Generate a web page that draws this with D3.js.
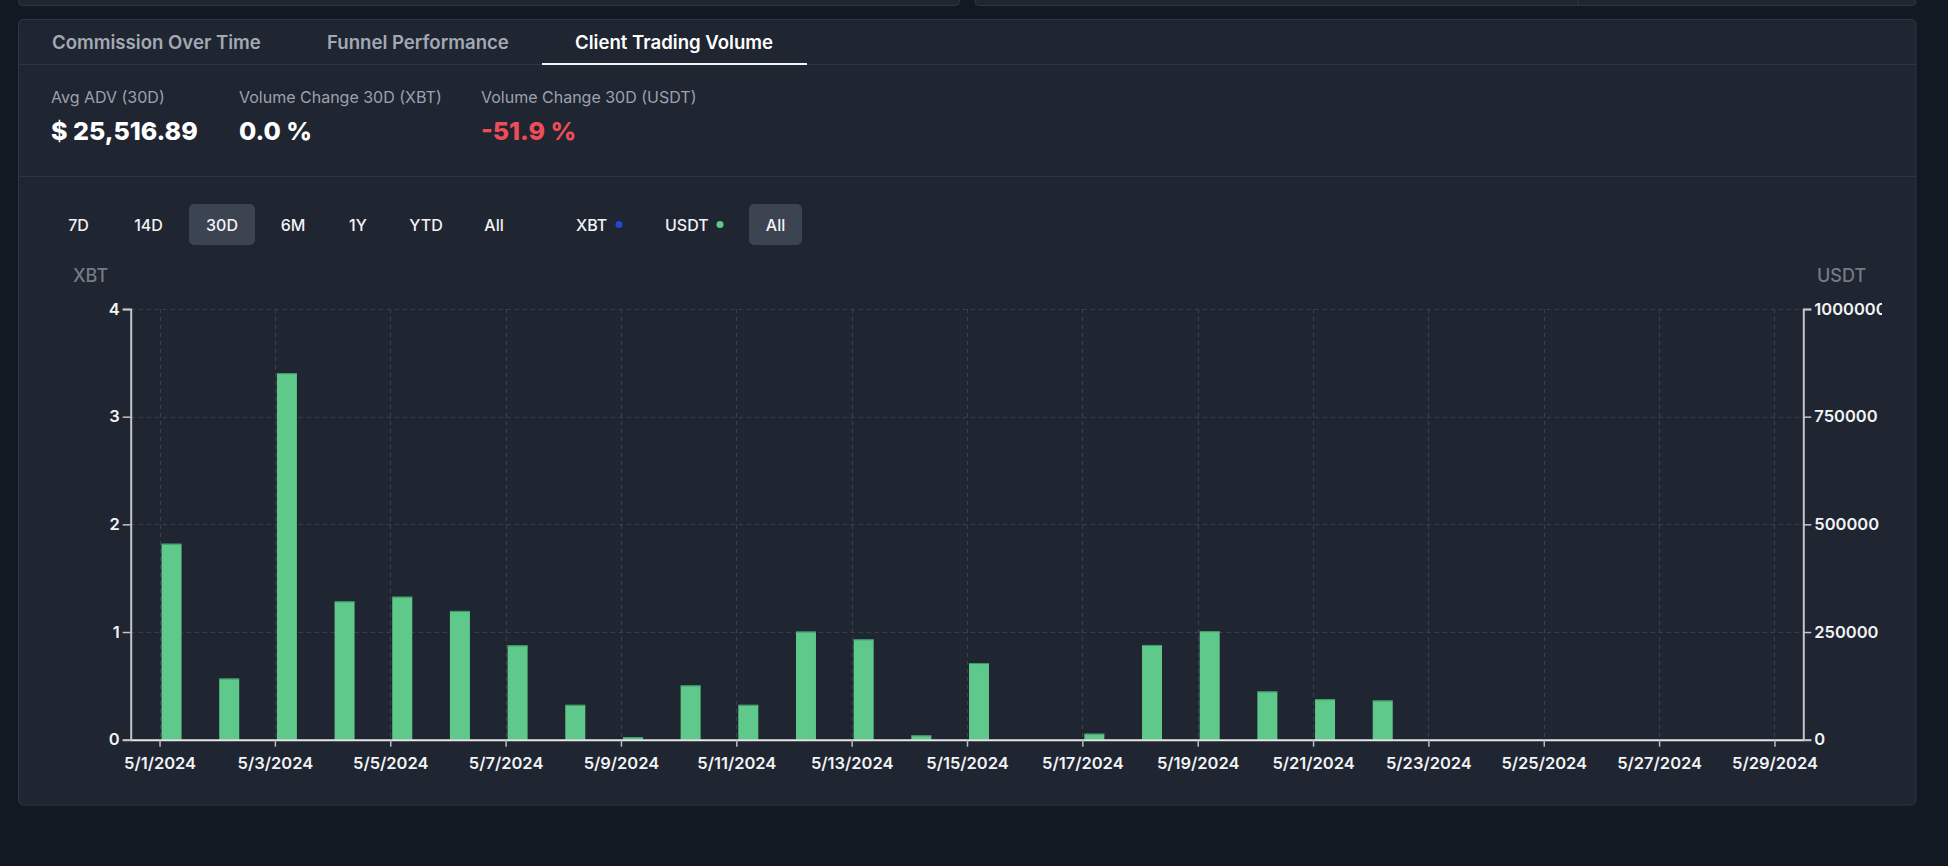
<!DOCTYPE html>
<html>
<head>
<meta charset="utf-8">
<script src="https://cdn.jsdelivr.net/npm/d3@7"></script>
<style>
  html, body { margin: 0; padding: 0; background: #131922; }
  body { width: 1948px; height: 866px; overflow: hidden; font-family: Inter, "Noto Sans", sans-serif; }
  svg { display: block; }
</style>
</head>
<body>
<svg id="chart" width="1948" height="866"></svg>
<script>
// ---------- data ----------
const dates = ["2024-05-01","2024-05-02","2024-05-03","2024-05-04","2024-05-05","2024-05-06","2024-05-07","2024-05-08","2024-05-09","2024-05-10",
               "2024-05-11","2024-05-12","2024-05-13","2024-05-14","2024-05-15","2024-05-16","2024-05-17","2024-05-18","2024-05-19","2024-05-20",
               "2024-05-21","2024-05-22","2024-05-23","2024-05-24","2024-05-25","2024-05-26","2024-05-27","2024-05-28","2024-05-29"];
const usdtVolume = [455000, 142000, 851000, 321000, 332000, 299000, 219000, 81000, 6000, 126000,
                    81000, 251000, 233000, 10000, 178000, 0, 14000, 220000, 252000, 112000,
                    94000, 91000, 0, 0, 0, 0, 0, 0, 0];
const xbtVolume = [0, 0, 0, 0, 0, 0, 0, 0, 0, 0,
                   0, 0, 0, 0, 0, 0, 0, 0, 0, 0,
                   0, 0, 0, 0, 0, 0, 0, 0, 0];
const xbtTicks = [0, 1, 2, 3, 4];
const usdtTicks = [0, 250000, 500000, 750000, 1000000];
const tabs = ["Commission Over Time", "Funnel Performance", "Client Trading Volume"];
const statLabels = ["Avg ADV (30D)", "Volume Change 30D (XBT)", "Volume Change 30D (USDT)"];
const statValues = ["$ 25,516.89", "0.0 %", "-51.9 %"];
const rangeButtons = ["7D", "14D", "30D", "6M", "1Y", "YTD", "All"];
const seriesNames = ["XBT", "USDT"];

// ---------- styles ----------
const C = {
  page: "#131922", card: "#1f2531", border: "#2f3542", grid: "#3a404d",
  text: "#f2f3f5", muted: "#9ca2ad", tabMuted: "#a3a9b3", axisTitle: "#767b84",
  green: "#5ec98a", greenEdge: "#3f9868", blue: "#2346d8", red: "#ec4d58", btn: "#3c4452"
};
const svg = d3.select("#chart");

// ---------- cards ----------
svg.append("rect").attr("x", 0).attr("y", 0).attr("width", 1948).attr("height", 866).attr("fill", C.page);
svg.append("rect").attr("x", 18.5).attr("y", -20).attr("width", 941).attr("height", 25.5).attr("rx", 4)
   .attr("fill", C.card).attr("stroke", C.border);
svg.append("rect").attr("x", 975).attr("y", -20).attr("width", 941).attr("height", 25.5).attr("rx", 4)
   .attr("fill", C.card).attr("stroke", C.border);
svg.append("line").attr("x1", 1578).attr("x2", 1578).attr("y1", 0).attr("y2", 5).attr("stroke", C.border);
svg.append("rect").attr("x", 18.5).attr("y", 19.5).attr("width", 1897.5).attr("height", 785.5).attr("rx", 5)
   .attr("fill", C.card).attr("stroke", C.border);
svg.append("line").attr("x1", 19).attr("x2", 1916).attr("y1", 64.5).attr("y2", 64.5).attr("stroke", C.border);
svg.append("line").attr("x1", 19).attr("x2", 1916).attr("y1", 176.5).attr("y2", 176.5).attr("stroke", C.border);

// ---------- tabs ----------
const tabX = [52, 327, 575];
svg.selectAll("text.tab").data(tabs).join("text").attr("class", "tab")
  .attr("x", (d, i) => tabX[i]).attr("y", 49)
  .attr("font-size", 18.6).attr("font-weight", 600)
  .attr("fill", (d, i) => i === 2 ? "#ffffff" : C.tabMuted).text(d => d);
svg.append("rect").attr("x", 542).attr("y", 63).attr("width", 265).attr("height", 2).attr("fill", "#f5f5f5");

// ---------- stats ----------
const statX = [51, 239, 481];
svg.selectAll("text.slabel").data(statLabels).join("text").attr("class", "slabel")
  .attr("x", (d, i) => statX[i]).attr("y", 103)
  .attr("font-size", 16).attr("fill", C.muted).text(d => d);
svg.selectAll("text.svalue").data(statValues).join("text").attr("class", "svalue")
  .attr("x", (d, i) => statX[i]).attr("y", 140)
  .attr("font-size", 25).attr("font-weight", 800)
  .attr("fill", (d, i) => i === 2 ? C.red : "#ffffff").text(d => d);

// ---------- buttons ----------
const btnCenters = [78.5, 148.5, 222, 293, 358, 426, 494];
svg.append("rect").attr("x", 189).attr("y", 204).attr("width", 66).attr("height", 41).attr("rx", 5).attr("fill", C.btn);
svg.selectAll("text.btn").data(rangeButtons).join("text").attr("class", "btn")
  .attr("x", (d, i) => btnCenters[i]).attr("y", 230.5).attr("text-anchor", "middle")
  .attr("font-size", 16).attr("font-weight", 500).attr("fill", C.text).text(d => d);
const legX = [576, 665], dotX = [619, 720], dotC = [C.blue, C.green];
svg.selectAll("text.leg").data(seriesNames).join("text").attr("class", "leg")
  .attr("x", (d, i) => legX[i]).attr("y", 230.5)
  .attr("font-size", 16).attr("font-weight", 500).attr("fill", C.text).text(d => d);
svg.selectAll("circle.legdot").data(seriesNames).join("circle").attr("class", "legdot")
  .attr("cx", (d, i) => dotX[i]).attr("cy", 224.5).attr("r", 3.5).attr("fill", (d, i) => dotC[i]);
svg.append("rect").attr("x", 749).attr("y", 204).attr("width", 53).attr("height", 41).attr("rx", 5).attr("fill", C.btn);
svg.append("text").attr("x", 775.5).attr("y", 230.5).attr("text-anchor", "middle")
  .attr("font-size", 16).attr("font-weight", 500).attr("fill", C.text).text("All");

// ---------- chart ----------
const parse = d3.timeParse("%Y-%m-%d");
const days = dates.map(parse);
const plotLeft = 130.7, plotRight = 1803.3, plotTop = 309, plotBottom = 739.7;
const x = d3.scaleTime()
  .domain([d3.timeHour.offset(days[0], -12), d3.timeHour.offset(days[days.length - 1], 12)])
  .range([plotLeft, plotRight]);
const yL = d3.scaleLinear().domain([0, 4]).range([plotBottom, plotTop]);
const yR = d3.scaleLinear().domain([0, 1000000]).range([plotBottom, plotTop]);
const xTicks = days.filter((d, i) => i % 2 === 0);

// grid
const grid = svg.append("g").attr("stroke", C.grid).attr("stroke-width", 1).attr("stroke-dasharray", "4,4");
grid.selectAll("line.h").data(xbtTicks.slice(1)).join("line")
  .attr("x1", plotLeft).attr("x2", plotRight).attr("y1", d => Math.round(yL(d)) + 0.5).attr("y2", d => Math.round(yL(d)) + 0.5);
grid.selectAll("line.v").data(xTicks).join("line")
  .attr("x1", d => Math.round(x(d)) + 0.5).attr("x2", d => Math.round(x(d)) + 0.5).attr("y1", plotTop).attr("y2", plotBottom);

// bars
const barW = 20, gap = 2;
const rows = days.map((d, i) => ({ date: d, usdt: usdtVolume[i], xbt: xbtVolume[i] }));
const bars = svg.append("g");
bars.selectAll("rect.xbt").data(rows.filter(r => r.xbt > 0)).join("rect").attr("class", "xbt")
  .attr("x", d => x(d.date) - gap - barW).attr("width", barW)
  .attr("y", d => yL(d.xbt)).attr("height", d => yL(0) - yL(d.xbt)).attr("fill", C.blue);
bars.selectAll("rect.usdt").data(rows.filter(r => r.usdt > 0)).join("rect").attr("class", "usdt")
  .attr("x", d => x(d.date) + gap).attr("width", barW)
  .attr("y", d => yR(d.usdt)).attr("height", d => yR(0) - yR(d.usdt)).attr("fill", C.green);
bars.selectAll("rect.edge").data(rows.filter(r => r.usdt > 0)).join("rect").attr("class", "edge")
  .attr("x", d => x(d.date) + gap).attr("width", barW)
  .attr("y", d => yR(d.usdt)).attr("height", 1).attr("fill", C.greenEdge);

// axes
function styleAxis(g, domainColor, tickColor) {
  g.select(".domain").attr("stroke", domainColor).attr("stroke-width", 2);
  g.selectAll(".tick line").attr("stroke", tickColor).attr("stroke-width", 1.5);
  g.selectAll(".tick text").attr("fill", C.text).attr("font-size", 16.5).attr("font-weight", 600)
    .attr("font-family", "Inter, 'Noto Sans', sans-serif");
}
const gx = svg.append("g").attr("transform", `translate(0,${plotBottom})`)
  .call(d3.axisBottom(x).tickValues(xTicks).tickFormat(d3.timeFormat("%-m/%-d/%Y")).tickSize(7).tickSizeOuter(0).tickPadding(11));
styleAxis(gx, "#e6e6e6", "#b8bcc2");
const gl = svg.append("g").attr("transform", `translate(${plotLeft},0)`)
  .call(d3.axisLeft(yL).tickValues(xbtTicks).tickFormat(d3.format("d")).tickSize(8).tickPadding(3));
styleAxis(gl, "#c3c6cb", "#c3c6cb");

svg.append("clipPath").attr("id", "rclip").append("rect").attr("x", 0).attr("y", 0).attr("width", 1882).attr("height", 866);
const gr = svg.append("g").attr("clip-path", "url(#rclip)").append("g").attr("transform", `translate(${plotRight},0)`)
  .call(d3.axisRight(yR).tickValues(usdtTicks).tickFormat(d3.format("d")).tickSize(8).tickPadding(3));
styleAxis(gr, "#c3c6cb", "#c3c6cb");

// axis titles
svg.append("text").attr("x", 73).attr("y", 282).attr("font-size", 18).attr("font-weight", 500)
  .attr("fill", C.axisTitle).text(seriesNames[0]);
svg.append("text").attr("x", 1817).attr("y", 282).attr("font-size", 18).attr("font-weight", 500)
  .attr("fill", C.axisTitle).text(seriesNames[1]);
</script>
</body>
</html>
